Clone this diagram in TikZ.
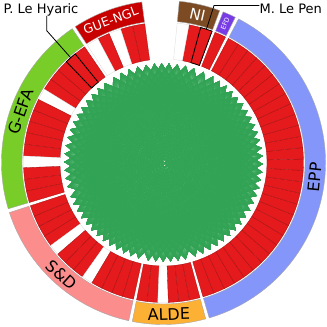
\documentclass[tikz,border=0pt]{standalone}
\usepackage{fontspec}
\setmainfont{DejaVu Sans}
\definecolor{mepred}{RGB}{228,26,28}
\definecolor{chordgreen}{RGB}{49,163,84}
\definecolor{eppblue}{RGB}{132,150,250}
\definecolor{aldeorange}{RGB}{252,176,52}
\definecolor{sdpink}{RGB}{252,141,141}
\definecolor{efagreen}{RGB}{120,205,40}
\definecolor{guered}{RGB}{200,0,0}
\definecolor{nibrown}{RGB}{125,75,35}
\definecolor{efdpurple}{RGB}{120,60,230}
\tikzset{
  slice/.style={fill=mepred, draw=mepred!70!black, line width=0.3pt},
  blank/.style={fill=white, draw=gray!30, line width=0.3pt},
  hidden/.style={},
  band/.style={draw=gray!70, line width=0.4pt},
  grouplabel/.style={font=\fontsize{16}{16}\selectfont, inner sep=0pt},
  callout/.style={font=\fontsize{13}{13}\selectfont, inner sep=0pt},
  chord/.style={draw=chordgreen, line width=0.25pt},
  picked/.style={draw=black, line width=0.8pt},
}
\newcount\mepcount

\begin{document}
\begin{tikzpicture}[x=1pt, y=1pt]
  \useasboundingbox (-163.5,-164.5) rectangle (163.5,162.5);
  % one slice per member, white ones have no data
  \foreach \gs/\ge/\gn/\wa/\wb/\gk in {-73.6/62.4/29/0/0/slice, 63.7/68.4/1/0/0/slice,
      69.7/84.4/3/3/0/slice, 84.7/97.4/3/0/0/hidden, 97.7/123/5/3/5/slice,
      124.3/196.6/15/6/12/slice, 198/257.6/13/5/9/slice, 258.9/285.1/6/3/0/slice}{
    \pgfmathsetmacro\dw{(\ge-\gs)/\gn}
    \foreach \k in {1,...,\gn}{
      \pgfmathsetmacro\aa{\gs+(\k-1)*\dw}
      \pgfmathsetmacro\ab{\aa+\dw}
      \pgfmathsetmacro\am{\aa+\dw/2}
      \edef\kind{\gk}
      \ifnum\k=\wa \def\kind{blank}\fi
      \ifnum\k=\wb \def\kind{blank}\fi
      \path[\kind] (\aa:103.5) arc[start angle=\aa, end angle=\ab, radius=103.5]
        -- (\ab:140) arc[start angle=\ab, end angle=\aa, radius=140] -- cycle;
      \global\advance\mepcount by 1
      \edef\idx{\the\mepcount}
      \coordinate (mep-\idx) at (\am:99);
      \expandafter\xdef\csname mepang\idx\endcsname{\am}
    }
  }
  \edef\nmep{\the\mepcount}
  \pgfmathtruncatemacro\nlast{\nmep-1}
  % chords between all members
  \foreach \i in {1,...,\nlast}{
    \pgfmathtruncatemacro\inext{\i+1}
    \foreach \j in {\inext,...,\nmep}{
      \edef\ai{\csname mepang\i\endcsname}
      \edef\aj{\csname mepang\j\endcsname}
      \pgfmathsetmacro\cm{(\ai+\aj)/2}
      \pgfmathsetmacro\cr{69.3*cos((\aj-\ai)/2)}
      \draw[chord] (mep-\i) .. controls (\cm:\cr) .. (mep-\j);
    }
  }
  % group bands
  \foreach \gs/\ge/\gc in {-73.6/62.4/eppblue, 63.7/68.4/efdpurple, 69.7/84.4/nibrown,
      97.7/123/guered, 124.3/196.6/efagreen, 198/257.6/sdpink, 258.9/285.1/aldeorange}{
    \path[band, fill=\gc] (\gs:141.5) arc[start angle=\gs, end angle=\ge, radius=141.5]
      -- (\ge:162) arc[start angle=\ge, end angle=\gs, radius=162] -- cycle;
  }
  \node[grouplabel, rotate=84.4] (lab-epp) at (-5.6:151.75) {EPP};
  \node[grouplabel, rotate=2] (lab-alde) at (272:151.75) {ALDE};
  \node[grouplabel, rotate=-42.2] (lab-sd) at (227.8:151.75) {S\&D};
  \node[grouplabel, rotate=70.45] (lab-efa) at (160.45:151.75) {G-EFA};
  \node[grouplabel, rotate=20.35, text=white, font=\fontsize{12.5}{12.5}\selectfont] (lab-gue) at (110.35:151.75) {GUE-NGL};
  \node[grouplabel, rotate=-12.95, text=white, font=\fontsize{15}{15}\selectfont] (lab-ni) at (77.05:151.75) {NI};
  \node[grouplabel, rotate=68, text=white, font=\fontsize{6.5}{6.5}\selectfont] (lab-efd) at (66.05:151.75) {EFD};
  % highlighted members
  \draw[picked] (69.7:103.5) arc[start angle=69.7, end angle=74.6, radius=103.5]
    -- (74.6:140) arc[start angle=74.6, end angle=69.7, radius=140] -- cycle;
  \draw[picked] (129.12:103.5) arc[start angle=129.12, end angle=133.94, radius=103.5]
    -- (133.94:140) arc[start angle=133.94, end angle=129.12, radius=140] -- cycle;
  \coordinate (lepen-end) at (72.15:140);
  \coordinate (lepen-knee) at (72.15:165);
  \node[callout, anchor=base west] (lepen) at (96,149.5) {M. Le Pen};
  \draw[picked] (lepen-end) -- (lepen-knee) -- (lepen-knee -| lepen.west);
  \coordinate (hyaric-end) at (131.53:140);
  \coordinate (hyaric-knee) at (131.53:176);
  \node[callout, anchor=base] (hyaric) at (-122.5,149.5) {P. Le Hyaric};
  \draw[picked] (hyaric-end) -- (hyaric-knee) -- (hyaric-knee |- hyaric.south);
\end{tikzpicture}
\end{document}
